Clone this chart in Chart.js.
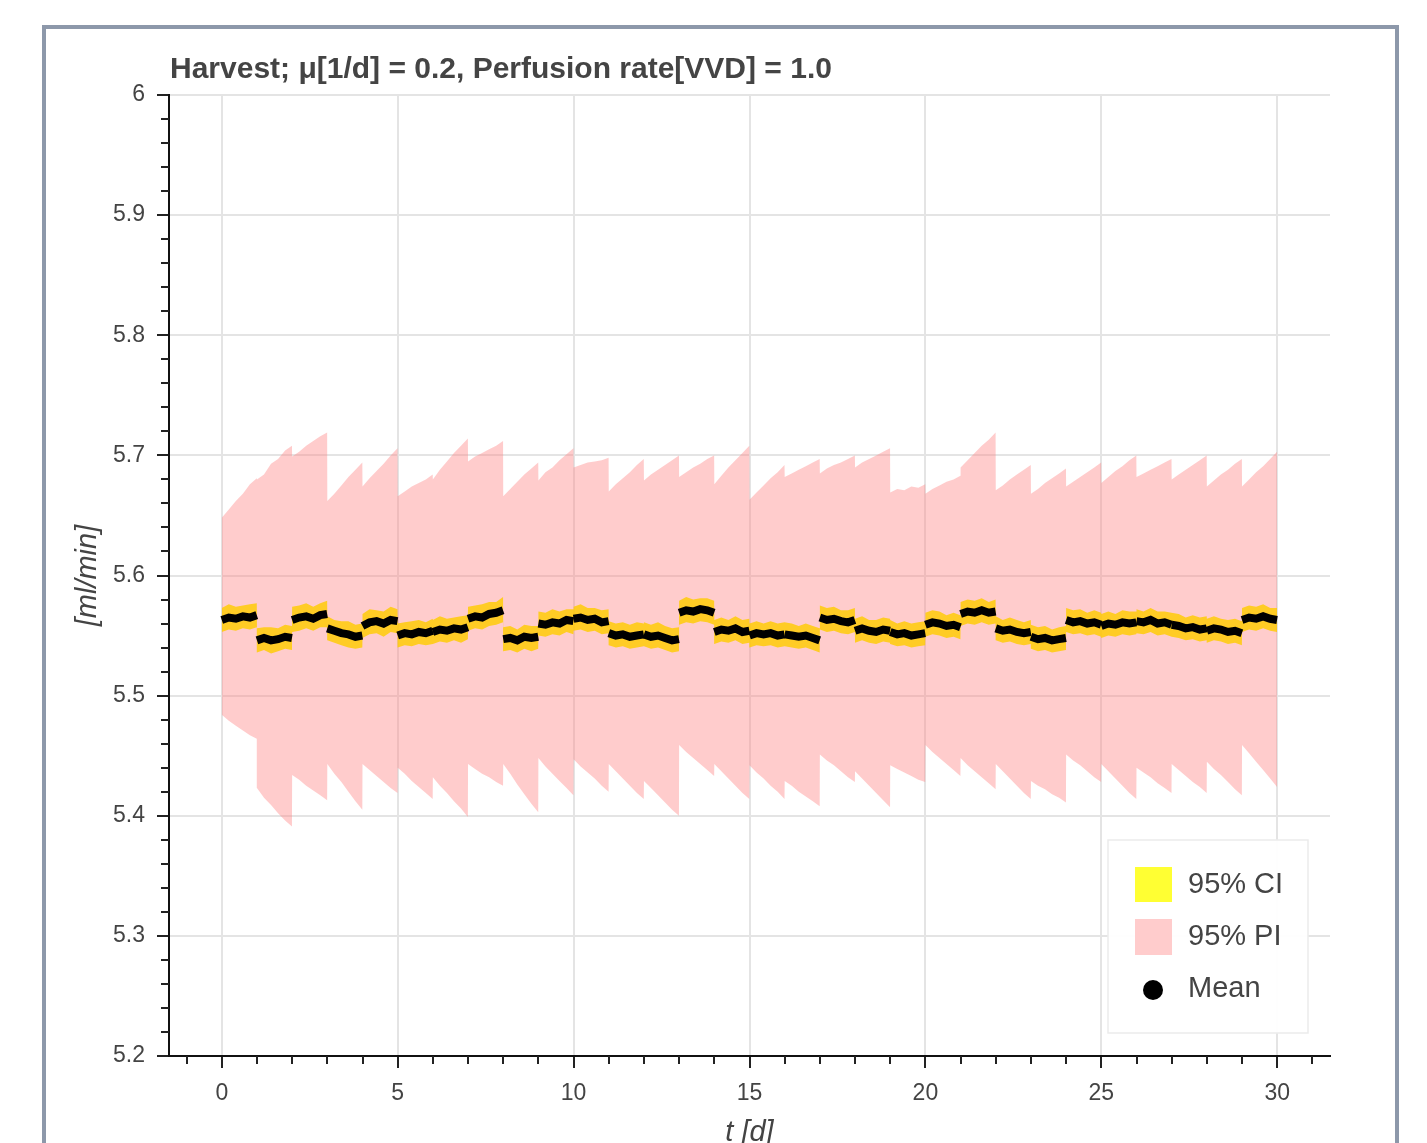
<!DOCTYPE html>
<html>
<head>
<meta charset="utf-8">
<script src="https://cdn.jsdelivr.net/npm/chart.js@4.4.1/dist/chart.umd.min.js"></script>
<style>
  html, body { margin: 0; padding: 0; background: #ffffff; overflow: hidden; width: 1427px; height: 1143px; }
  #c { position: absolute; left: 0; top: 0; }
  #frame { position: absolute; left: 42px; top: 25px; width: 1349px; height: 1200px; border: 4px solid #8d98aa; border-bottom: none; pointer-events: none; }
</style>
</head>
<body>
<canvas id="c" width="1427" height="1150"></canvas>
<div id="frame"></div>
<script>
// ---------------- data ----------------
const chartTitle = 'Harvest; \u03bc[1/d] = 0.2, Perfusion rate[VVD] = 1.0';
const xAxisTitle = 't [d]';
const yAxisTitle = '[ml/min]';
const xMajorTicks = [0, 5, 10, 15, 20, 25, 30];
const yMajorTicks = [5.2, 5.3, 5.4, 5.5, 5.6, 5.7, 5.8, 5.9, 6.0];
const legendLabels = ['95% CI', '95% PI', 'Mean'];

const days = [0,1,2,3,4,5,6,7,8,9,10,11,12,13,14,15,16,17,18,19,20,21,22,23,24,25,26,27,28,29];
const sampleOffsets = [0, 0.2, 0.4, 0.6, 0.8, 0.995];

const meanValues = [
  5.563,5.565,5.564,5.566,5.565,5.567,
  5.546,5.548,5.546,5.547,5.549,5.548,
  5.563,5.565,5.566,5.564,5.567,5.568,
  5.556,5.554,5.552,5.551,5.549,5.550,
  5.558,5.561,5.562,5.560,5.563,5.562,
  5.550,5.552,5.551,5.553,5.552,5.554,
  5.553,5.555,5.554,5.556,5.555,5.557,
  5.564,5.566,5.565,5.568,5.569,5.571,
  5.547,5.548,5.546,5.549,5.548,5.549,
  5.560,5.559,5.561,5.560,5.563,5.562,
  5.564,5.565,5.563,5.564,5.561,5.562,
  5.552,5.550,5.551,5.549,5.550,5.551,
  5.551,5.549,5.550,5.548,5.546,5.547,
  5.569,5.571,5.570,5.572,5.571,5.569,
  5.553,5.555,5.554,5.556,5.553,5.554,
  5.550,5.552,5.551,5.552,5.550,5.551,
  5.551,5.550,5.549,5.550,5.548,5.546,
  5.565,5.563,5.564,5.562,5.561,5.563,
  5.554,5.556,5.554,5.553,5.555,5.554,
  5.553,5.551,5.552,5.550,5.551,5.552,
  5.559,5.561,5.560,5.558,5.559,5.557,
  5.568,5.570,5.569,5.571,5.569,5.570,
  5.556,5.554,5.555,5.553,5.552,5.553,
  5.549,5.547,5.548,5.546,5.547,5.548,
  5.563,5.561,5.562,5.560,5.561,5.559,
  5.558,5.560,5.559,5.561,5.560,5.561,
  5.562,5.561,5.563,5.560,5.561,5.559,
  5.559,5.558,5.556,5.557,5.555,5.556,
  5.554,5.556,5.555,5.553,5.554,5.552,
  5.563,5.565,5.564,5.566,5.564,5.563
];

const ciUpper = [
  5.573,5.576,5.574,5.575,5.576,5.577,
  5.556,5.557,5.557,5.556,5.559,5.558,
  5.574,5.575,5.577,5.574,5.577,5.579,
  5.566,5.563,5.562,5.562,5.559,5.560,
  5.568,5.572,5.571,5.570,5.574,5.572,
  5.560,5.561,5.562,5.563,5.561,5.564,
  5.563,5.566,5.564,5.565,5.566,5.567,
  5.574,5.575,5.576,5.578,5.578,5.582,
  5.557,5.558,5.555,5.559,5.558,5.558,
  5.570,5.569,5.572,5.570,5.572,5.572,
  5.574,5.576,5.573,5.573,5.571,5.572,
  5.562,5.560,5.561,5.559,5.561,5.560,
  5.561,5.559,5.561,5.558,5.556,5.557,
  5.579,5.582,5.580,5.581,5.581,5.579,
  5.563,5.565,5.563,5.566,5.563,5.564,
  5.560,5.562,5.560,5.562,5.560,5.561,
  5.561,5.560,5.558,5.560,5.558,5.556,
  5.575,5.573,5.574,5.571,5.571,5.573,
  5.564,5.566,5.563,5.563,5.565,5.564,
  5.563,5.560,5.562,5.560,5.561,5.562,
  5.569,5.571,5.570,5.567,5.569,5.567,
  5.578,5.580,5.579,5.581,5.578,5.580,
  5.566,5.563,5.565,5.563,5.561,5.563,
  5.559,5.557,5.558,5.555,5.557,5.558,
  5.573,5.571,5.572,5.569,5.571,5.569,
  5.568,5.570,5.568,5.571,5.570,5.570,
  5.572,5.570,5.573,5.570,5.570,5.569,
  5.569,5.568,5.565,5.567,5.565,5.566,
  5.564,5.566,5.564,5.563,5.564,5.562,
  5.573,5.575,5.574,5.576,5.573,5.573
];

const ciLower = [
  5.553,5.555,5.554,5.556,5.555,5.557,
  5.536,5.538,5.535,5.537,5.539,5.538,
  5.553,5.554,5.556,5.554,5.557,5.557,
  5.546,5.544,5.542,5.540,5.539,5.540,
  5.548,5.551,5.552,5.549,5.553,5.552,
  5.540,5.542,5.541,5.543,5.542,5.543,
  5.543,5.545,5.544,5.546,5.544,5.547,
  5.554,5.556,5.555,5.558,5.559,5.561,
  5.537,5.538,5.536,5.539,5.537,5.539,
  5.550,5.549,5.551,5.550,5.553,5.551,
  5.554,5.555,5.553,5.554,5.551,5.552,
  5.542,5.540,5.541,5.539,5.540,5.541,
  5.541,5.539,5.540,5.538,5.536,5.537,
  5.559,5.561,5.560,5.562,5.561,5.559,
  5.543,5.545,5.544,5.546,5.543,5.544,
  5.540,5.542,5.541,5.542,5.540,5.541,
  5.541,5.540,5.539,5.540,5.538,5.536,
  5.555,5.553,5.554,5.552,5.551,5.553,
  5.544,5.546,5.544,5.543,5.545,5.544,
  5.543,5.541,5.542,5.540,5.541,5.542,
  5.549,5.551,5.550,5.548,5.549,5.547,
  5.558,5.560,5.559,5.561,5.559,5.560,
  5.546,5.544,5.545,5.543,5.542,5.543,
  5.539,5.537,5.538,5.536,5.537,5.538,
  5.553,5.551,5.552,5.550,5.551,5.549,
  5.548,5.550,5.549,5.551,5.550,5.551,
  5.552,5.551,5.553,5.550,5.551,5.549,
  5.549,5.548,5.546,5.547,5.545,5.546,
  5.544,5.546,5.545,5.543,5.544,5.542,
  5.553,5.555,5.554,5.556,5.554,5.553
];

const piUpper = [
  5.648,5.655,5.662,5.668,5.676,5.681,
  5.680,5.684,5.693,5.697,5.704,5.708,
  5.699,5.703,5.708,5.712,5.716,5.719,
  5.662,5.668,5.675,5.682,5.688,5.694,
  5.674,5.681,5.687,5.693,5.700,5.706,
  5.666,5.670,5.674,5.677,5.680,5.684,
  5.680,5.688,5.695,5.702,5.708,5.714,
  5.695,5.699,5.702,5.705,5.708,5.712,
  5.666,5.672,5.678,5.684,5.689,5.694,
  5.679,5.686,5.690,5.696,5.701,5.706,
  5.690,5.692,5.694,5.695,5.696,5.698,
  5.670,5.676,5.681,5.686,5.692,5.697,
  5.679,5.684,5.688,5.692,5.696,5.700,
  5.682,5.686,5.690,5.693,5.697,5.700,
  5.676,5.683,5.690,5.696,5.702,5.708,
  5.663,5.669,5.675,5.681,5.686,5.692,
  5.682,5.685,5.688,5.691,5.694,5.697,
  5.685,5.689,5.692,5.694,5.697,5.700,
  5.690,5.694,5.697,5.700,5.703,5.706,
  5.669,5.672,5.671,5.674,5.673,5.676,
  5.668,5.672,5.675,5.678,5.680,5.683,
  5.690,5.696,5.702,5.708,5.713,5.719,
  5.671,5.675,5.680,5.684,5.688,5.692,
  5.668,5.672,5.677,5.681,5.685,5.689,
  5.674,5.678,5.682,5.686,5.690,5.694,
  5.677,5.682,5.687,5.691,5.696,5.700,
  5.682,5.685,5.688,5.691,5.694,5.697,
  5.680,5.684,5.688,5.692,5.696,5.700,
  5.674,5.679,5.684,5.688,5.693,5.697,
  5.674,5.680,5.686,5.691,5.697,5.703
];

const piLower = [
  5.484,5.479,5.475,5.471,5.467,5.464,
  5.423,5.415,5.409,5.402,5.396,5.391,
  5.434,5.430,5.425,5.421,5.417,5.413,
  5.443,5.435,5.428,5.420,5.412,5.405,
  5.443,5.438,5.433,5.428,5.423,5.419,
  5.440,5.435,5.429,5.424,5.419,5.414,
  5.432,5.425,5.419,5.412,5.406,5.399,
  5.443,5.439,5.435,5.432,5.428,5.425,
  5.443,5.435,5.426,5.418,5.410,5.403,
  5.448,5.441,5.435,5.429,5.423,5.417,
  5.447,5.441,5.436,5.431,5.425,5.420,
  5.443,5.437,5.431,5.425,5.419,5.414,
  5.429,5.423,5.417,5.411,5.405,5.400,
  5.459,5.453,5.448,5.443,5.438,5.433,
  5.443,5.437,5.431,5.425,5.419,5.414,
  5.442,5.436,5.431,5.425,5.420,5.414,
  5.429,5.425,5.420,5.416,5.412,5.408,
  5.451,5.446,5.442,5.437,5.432,5.428,
  5.437,5.431,5.425,5.419,5.413,5.407,
  5.442,5.439,5.436,5.433,5.430,5.428,
  5.459,5.453,5.448,5.443,5.438,5.433,
  5.448,5.442,5.437,5.432,5.427,5.422,
  5.443,5.437,5.431,5.425,5.419,5.414,
  5.429,5.425,5.422,5.418,5.415,5.411,
  5.451,5.446,5.442,5.437,5.432,5.428,
  5.443,5.437,5.431,5.425,5.419,5.414,
  5.440,5.436,5.432,5.427,5.423,5.419,
  5.443,5.438,5.433,5.428,5.424,5.419,
  5.445,5.439,5.434,5.428,5.422,5.417,
  5.459,5.452,5.445,5.438,5.431,5.424
];

// sample times: each day sampled at the offsets above
const sampleTimes = [];
days.forEach(d => sampleOffsets.forEach(o => sampleTimes.push(d + o)));
const toPoints = vals => vals.map((v, i) => ({ x: sampleTimes[i], y: v }));

// ---------------- styling ----------------
const FONT = '"Liberation Sans", Arial, Helvetica, sans-serif';
const TEXT = '#444444';
const PI_FILL = 'rgba(255,128,128,0.4)';
const CI_FILL = 'rgba(255,204,0,0.82)';
const LEG_CI = '#ffff33';
const LEG_PI = '#ffcccc';
Chart.defaults.font.family = FONT;
Chart.defaults.color = TEXT;

const decorPlugin = {
  id: 'decor',
  afterDraw(chart) {
    const { ctx, chartArea: a, scales } = chart;
    const x = scales.x, y = scales.y;
    ctx.save();
    // minor ticks
    ctx.strokeStyle = '#222';
    ctx.lineWidth = 2;
    ctx.beginPath();
    for (let k = 1; k < 40; k++) {
      if (k % 5 === 0) continue;
      const py = Math.round(y.getPixelForValue(5.2 + k * 0.02)) + 0.0;
      ctx.moveTo(a.left - 8, py); ctx.lineTo(a.left, py);
    }
    for (let v = -1; v <= 31; v++) {
      if (v % 5 === 0) continue;
      const px = Math.round(x.getPixelForValue(v));
      ctx.moveTo(px, a.bottom); ctx.lineTo(px, a.bottom + 8);
    }
    ctx.stroke();

    // title
    ctx.fillStyle = TEXT;
    ctx.font = 'bold 30px ' + FONT;
    ctx.textAlign = 'left';
    ctx.textBaseline = 'alphabetic';
    ctx.fillText(chartTitle, a.left + 1, a.top - 17);

    // legend box
    const bw = 200, bh = 193;
    const bx = a.right - 22 - bw, by = a.bottom - 23 - bh;
    ctx.fillStyle = 'rgba(255,255,255,0.95)';
    ctx.fillRect(bx, by, bw, bh);
    ctx.strokeStyle = '#ebebeb';
    ctx.lineWidth = 1.5;
    ctx.strokeRect(bx, by, bw, bh);
    const rowY = [by + 44, by + 96, by + 148];
    ctx.fillStyle = LEG_CI;
    ctx.fillRect(bx + 27, rowY[0] - 17, 37, 35);
    ctx.fillStyle = LEG_PI;
    ctx.fillRect(bx + 27, rowY[1] - 17, 37, 36);
    ctx.fillStyle = '#000';
    ctx.beginPath();
    ctx.arc(bx + 45, rowY[2] + 2, 10, 0, Math.PI * 2);
    ctx.fill();
    ctx.fillStyle = TEXT;
    ctx.font = '29px ' + FONT;
    ctx.textBaseline = 'middle';
    legendLabels.forEach((lab, i) => ctx.fillText(lab, bx + 80, rowY[i] + 1));
    ctx.restore();
  }
};

const dayBreak = ctx => (Math.floor(ctx.p0.parsed.x) !== Math.floor(ctx.p1.parsed.x)) ? 'rgba(0,0,0,0)' : undefined;

new Chart(document.getElementById('c'), {
  type: 'line',
  data: {
    datasets: [
      { label: 'Mean', data: toPoints(meanValues), borderColor: '#000', borderWidth: 8, pointRadius: 0, fill: false,
        segment: { borderColor: dayBreak } },
      { label: '95% CI upper', data: toPoints(ciUpper), borderColor: 'rgba(0,0,0,0)', borderWidth: 1, pointRadius: 0, fill: '+1', backgroundColor: CI_FILL },
      { label: '95% CI lower', data: toPoints(ciLower), borderColor: 'rgba(0,0,0,0)', borderWidth: 1, pointRadius: 0, fill: false },
      { label: '95% PI upper', data: toPoints(piUpper), borderColor: 'rgba(0,0,0,0)', borderWidth: 1, pointRadius: 0, fill: '+1', backgroundColor: PI_FILL },
      { label: '95% PI lower', data: toPoints(piLower), borderColor: 'rgba(0,0,0,0)', borderWidth: 1, pointRadius: 0, fill: false }
    ]
  },
  options: {
    responsive: false,
    animation: false,
    events: [],
    layout: { padding: { left: 71, right: 97, top: 95, bottom: 0 } },
    plugins: { legend: { display: false }, tooltip: { enabled: false }, title: { display: false } },
    scales: {
      x: {
        type: 'linear', min: -1.5, max: 31.5,
        afterBuildTicks: s => { s.ticks = xMajorTicks.map(v => ({ value: v })); },
        afterFit: s => { s.height = 94; },
        grid: { color: '#e4e4e4', lineWidth: 2, tickLength: 12, tickColor: '#222', tickWidth: 2 },
        border: { color: '#111', width: 2 },
        ticks: { font: { size: 23 }, color: TEXT, padding: 12, maxRotation: 0, autoSkip: false },
        title: { display: true, text: xAxisTitle, font: { size: 29, style: 'italic' }, color: TEXT, padding: 0 }
      },
      y: {
        type: 'linear', min: 5.2, max: 6.0,
        afterBuildTicks: s => { s.ticks = yMajorTicks.map(v => ({ value: v })); },
        afterFit: s => { s.width = 98; },
        grid: { color: '#e4e4e4', lineWidth: 2, tickLength: 12, tickColor: '#222', tickWidth: 2 },
        border: { color: '#111', width: 2 },
        ticks: { font: { size: 23 }, color: TEXT, padding: 12, callback: v => (v === 6 ? '6' : v.toFixed(1)) },
        title: { display: true, text: yAxisTitle, font: { size: 29, style: 'italic' }, color: TEXT, padding: 0 }
      }
    }
  },
  plugins: [decorPlugin]
});
</script>
</body>
</html>
